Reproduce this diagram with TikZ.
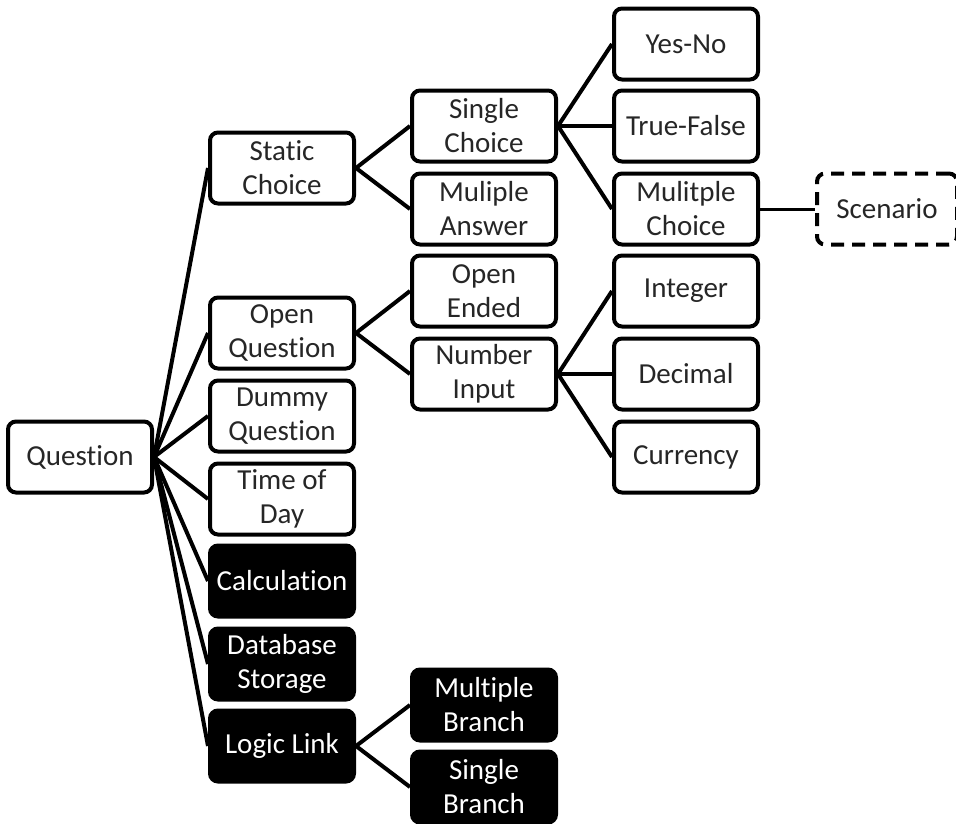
\documentclass[tikz,border=0pt]{standalone}
\usepackage{fontspec}
\setmainfont{Carlito}[Ligatures=NoCommon]
\begin{document}
\begin{tikzpicture}[x=1pt,y=-1pt,
  box/.style={draw=black, line width=4pt, rounded corners=8pt,
    minimum width=144pt, minimum height=71pt, align=center, inner sep=1pt,
    font=\fontsize{29}{34}\selectfont, text=black!85, fill=white},
  darkbox/.style={box, fill=black, text=white},
  dashbox/.style={box, dash pattern=on 13pt off 8pt},
  link/.style={line width=4pt}]
\useasboundingbox (0,0) rectangle (956,823);

% root
\node[box] (q) at (80,457) {Question};

% first level
\node[box] (sc) at (282,168) {Static\\Choice};
\node[box] (oq) at (282,333) {Open\\Question};
\node[box] (dq) at (282,416) {Dummy\\Question};
\node[box] (td) at (282,499) {Time of\\Day};
\node[darkbox] (calc) at (282,581) {Calculation};
\node[darkbox] (db) at (282,664) {Database\\Storage};
\node[darkbox] (ll) at (282,746) {Logic Link};

% second level
\node[box] (single) at (484,126) {Single\\Choice};
\node[box] (multi) at (484,209) {Muliple\\Answer};
\node[box] (open) at (484,291) {Open\\Ended};
\node[box] (num) at (484,374) {Number\\Input};
\node[darkbox] (mb) at (484,705) {Multiple\\Branch};
\node[darkbox] (sb) at (484,787) {Single\\Branch};

% third level
\node[box] (yn) at (686,44) {Yes-No};
\node[box] (tf) at (686,126) {True-False};
\node[box] (mc) at (686,209) {Mulitple\\Choice};
\node[box] (int) at (686,291) {Integer};
\node[box] (dec) at (686,374) {Decimal};
\node[box] (cur) at (686,457) {Currency};

% optional extension
\node[dashbox, minimum width=140pt] (scen) at (887,209) {Scenario};

% connectors
\foreach \c in {sc,oq,dq,td,calc,db,ll}
  \draw[link] (q.east) -- (\c.west);
\foreach \c in {single,multi}
  \draw[link] (sc.east) -- (\c.west);
\foreach \c in {open,num}
  \draw[link] (oq.east) -- (\c.west);
\foreach \c in {yn,tf,mc}
  \draw[link] (single.east) -- (\c.west);
\foreach \c in {int,dec,cur}
  \draw[link] (num.east) -- (\c.west);
\foreach \c in {mb,sb}
  \draw[link] (ll.east) -- (\c.west);
\draw[line width=3pt] (mc.east) -- (scen.west);
\end{tikzpicture}
\end{document}
